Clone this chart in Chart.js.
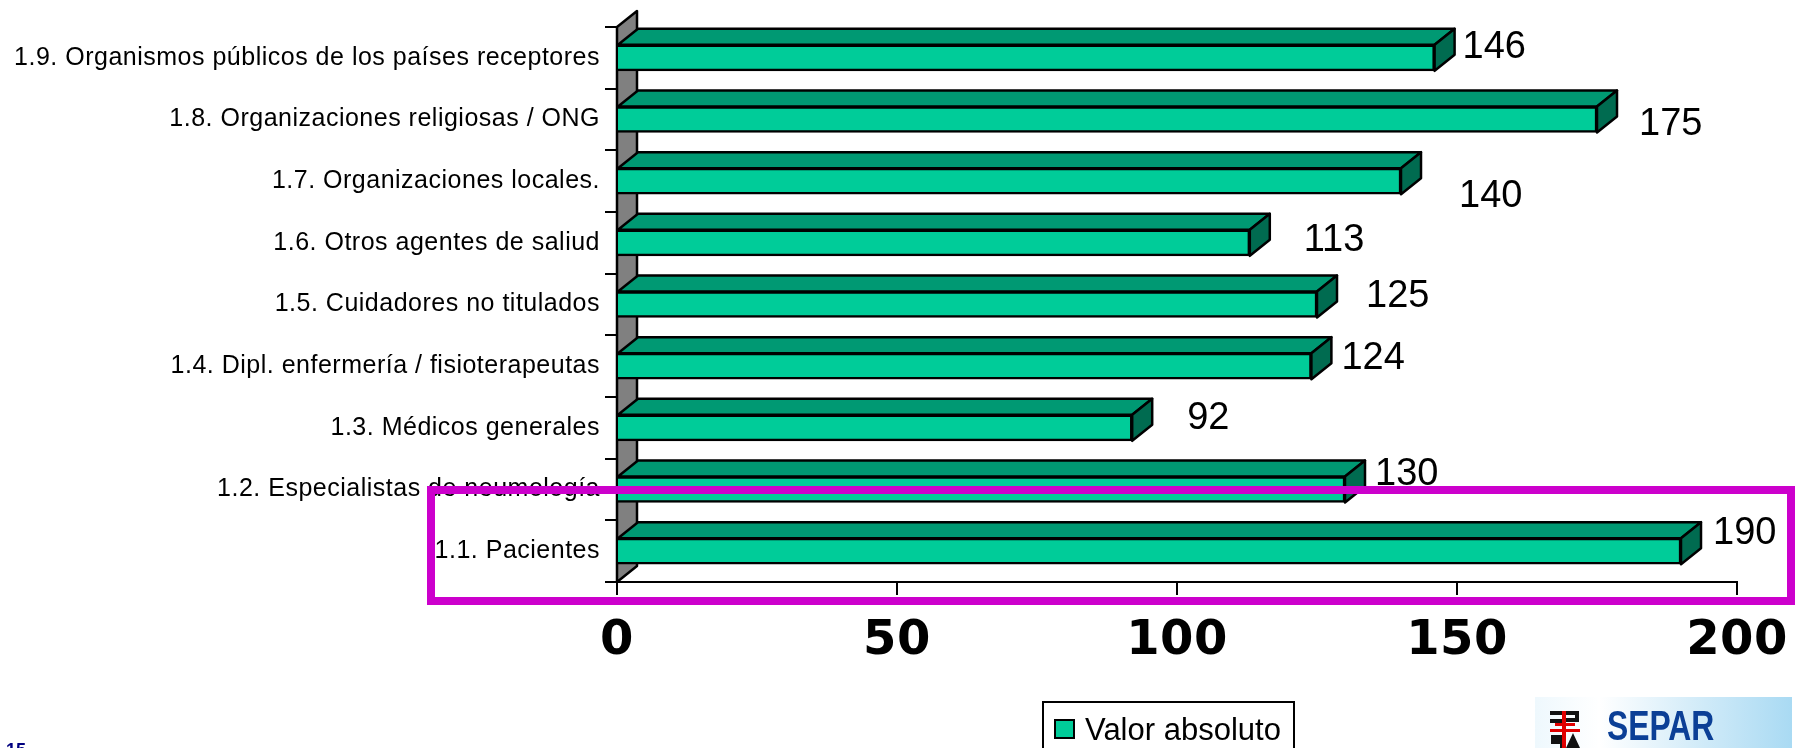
<!DOCTYPE html>
<html>
<head>
<meta charset="utf-8">
<script src="https://cdn.jsdelivr.net/npm/chart.js@4"></script>
<style>
html, body { margin: 0; padding: 0; background: #fff; overflow: hidden; }
canvas { display: block; }
</style>
</head>
<body>
<canvas id="myChart" width="1800" height="748"></canvas>
<script>
const categories = [
    '1.9. Organismos públicos de los países receptores',
    '1.8. Organizaciones religiosas / ONG',
    '1.7. Organizaciones locales.',
    '1.6. Otros agentes de saliud',
    '1.5. Cuidadores no titulados',
    '1.4. Dipl. enfermería / fisioterapeutas',
    '1.3. Médicos generales',
    '1.2. Especialistas de neumología',
    '1.1. Pacientes'
];
const values = [146, 175, 140, 113, 125, 124, 92, 130, 190];
const seriesName = 'Valor absoluto';
const xTicks = [0, 50, 100, 150, 200];

// the value labels sit loose next to the bars in the original
const labelDx = [28, 42, 58, 54, 49, 30, 55, 30, 32];
const labelDy = [-10, 5, 15, -2, -8, -8, -9, -15, -18];

const depthX = 20;
const depthY = 16;

function face(ctx, pts, fill) {
    ctx.beginPath();
    pts.forEach((p, i) => i ? ctx.lineTo(p[0], p[1]) : ctx.moveTo(p[0], p[1]));
    ctx.closePath();
    ctx.fillStyle = fill;
    ctx.fill();
    ctx.stroke();
}

const bars3d = {
    id: 'bars3d',
    beforeDraw(chart) {
        // tick labels are a bit looser than Liberation Sans
        chart.ctx.letterSpacing = '0.5px';
    },
    beforeDatasetsDraw(chart) {
        const ctx = chart.ctx;
        const a = chart.chartArea;
        ctx.save();
        ctx.lineWidth = 2.5;
        ctx.strokeStyle = '#000';
        ctx.lineJoin = 'round';
        face(ctx, [[a.left, a.top], [a.left + depthX, a.top - depthY],
            [a.left + depthX, a.bottom - depthY], [a.left, a.bottom]], '#808080');
        chart.getDatasetMeta(0).data.forEach(bar => {
            const top = bar.y - bar.height / 2;
            const bottom = bar.y + bar.height / 2;
            face(ctx, [[bar.base, top], [bar.base + depthX, top - depthY],
                [bar.x + depthX, top - depthY], [bar.x, top]], '#009973');
            face(ctx, [[bar.x, top], [bar.x + depthX, top - depthY],
                [bar.x + depthX, bottom - depthY], [bar.x, bottom]], '#006B50');
        });
        ctx.restore();
    },
    afterDraw(chart) {
        const ctx = chart.ctx;
        ctx.save();
        ctx.letterSpacing = '0px';

        // value labels
        ctx.fillStyle = '#000';
        ctx.font = '38px "Liberation Sans"';
        ctx.textAlign = 'left';
        ctx.textBaseline = 'middle';
        chart.getDatasetMeta(0).data.forEach((bar, i) => {
            ctx.fillText(values[i], bar.x + labelDx[i], bar.y + labelDy[i]);
        });

        // legend box, runs off the bottom of the slide
        ctx.lineWidth = 2;
        ctx.strokeStyle = '#000';
        ctx.strokeRect(1043, 702, 251, 60);
        ctx.fillStyle = '#00CC99';
        ctx.fillRect(1055, 720, 19, 18);
        ctx.strokeRect(1055, 720, 19, 18);
        ctx.fillStyle = '#000';
        ctx.font = '31px "Liberation Sans"';
        ctx.textBaseline = 'alphabetic';
        ctx.fillText(seriesName, 1085, 740);

        // highlight rectangle
        ctx.lineWidth = 8;
        ctx.strokeStyle = '#CC00CC';
        ctx.strokeRect(431, 490, 1360, 111);

        // page number
        ctx.fillStyle = '#000080';
        ctx.font = 'bold 18px "Liberation Sans"';
        ctx.fillText('15', 6, 756);

        // SEPAR logo
        const g = ctx.createLinearGradient(1535, 0, 1792, 0);
        g.addColorStop(0, '#eef8fd');
        g.addColorStop(0.25, '#ffffff');
        g.addColorStop(0.6, '#d6edf9');
        g.addColorStop(1, '#a9daf3');
        ctx.fillStyle = g;
        ctx.fillRect(1535, 697, 257, 51);
        ctx.fillStyle = '#111';
        ctx.fillRect(1550, 711, 12, 4);
        ctx.fillRect(1550, 719, 12, 4);
        ctx.fillRect(1566, 711, 13, 4);
        ctx.fillRect(1566, 718, 13, 4);
        ctx.fillRect(1575, 711, 4, 11);
        ctx.fillRect(1551, 735, 9, 9);
        ctx.fillRect(1560, 735, 3, 13);
        ctx.beginPath();
        ctx.moveTo(1566, 748);
        ctx.lineTo(1573, 733);
        ctx.lineTo(1580, 748);
        ctx.closePath();
        ctx.fill();
        ctx.fillStyle = '#e00000';
        ctx.fillRect(1550, 729, 30, 3);
        ctx.fillRect(1555, 723, 20, 3);
        ctx.fillRect(1562, 711, 4, 37);
        ctx.fillStyle = '#0B3F96';
        ctx.font = 'bold 43px "Liberation Sans"';
        ctx.translate(1607, 740);
        ctx.scale(0.74, 1);
        ctx.fillText('SEPAR', 0, 0);
        ctx.restore();
    }
};

const data = {
    labels: categories,
    datasets: [{
        label: seriesName,
        data: values,
        backgroundColor: '#00CC99',
        borderColor: '#000',
        borderWidth: 2.5,
        barThickness: 26
    }]
};

const config = {
    type: 'bar',
    data: data,
    options: {
        indexAxis: 'y',
        responsive: false,
        animation: false,
        devicePixelRatio: 1,
        layout: { padding: { top: 27, right: 63, left: 0, bottom: 0 } },
        plugins: { legend: { display: false }, tooltip: { enabled: false } },
        scales: {
            x: {
                min: 0,
                max: 200,
                afterBuildTicks: scale => { scale.ticks = xTicks.map(v => ({ value: v })); },
                afterFit: scale => {
                    scale.height = 166;
                    scale.paddingLeft = 0;
                    scale.paddingRight = 0;
                },
                border: { color: '#000', width: 2 },
                grid: { drawOnChartArea: false, color: '#000', lineWidth: 2, tickLength: 13 },
                ticks: {
                    color: '#000',
                    padding: 18,
                    maxRotation: 0,
                    font: { family: '"DejaVu Sans"', weight: 'bold', size: 48 }
                }
            },
            y: {
                afterFit: scale => { scale.width = 617; },
                border: { color: '#000', width: 2 },
                grid: { drawOnChartArea: false, color: '#000', lineWidth: 2, tickLength: 12 },
                ticks: {
                    color: '#000',
                    padding: 5,
                    autoSkip: false,
                    font: { family: '"Liberation Sans"', size: 25 }
                }
            }
        }
    },
    plugins: [bars3d]
};

const myChart = new Chart(document.getElementById('myChart'), config);
</script>
</body>
</html>
